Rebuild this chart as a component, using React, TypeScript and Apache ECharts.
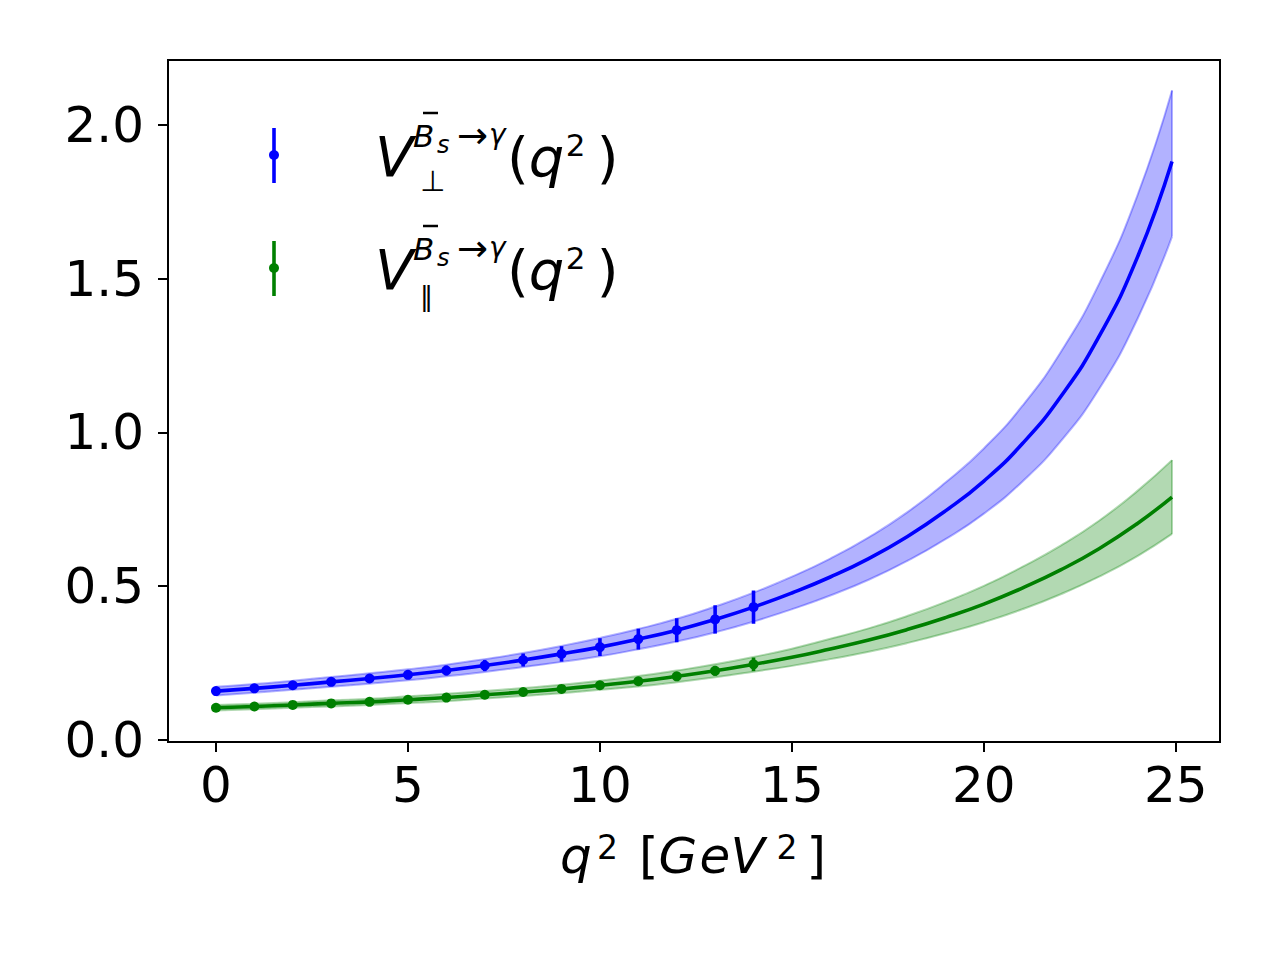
import React, { useEffect, useRef } from "react";
import * as echarts from "echarts";

// ---------- data ----------
const q2Grid = [0, 1, 2, 3, 4, 5, 6, 7, 8, 9, 10, 11, 12, 13, 14, 15, 16, 17, 18, 19, 20, 21, 22, 23, 24, 24.9];

const perpCentral = [0.159, 0.168, 0.178, 0.189, 0.2, 0.212, 0.226, 0.242, 0.26, 0.28, 0.302, 0.328, 0.357, 0.392, 0.432, 0.478, 0.53, 0.59, 0.661, 0.745, 0.842, 0.963, 1.116, 1.312, 1.57, 1.881];
const perpUpper = [0.173, 0.182, 0.193, 0.205, 0.217, 0.23, 0.245, 0.263, 0.283, 0.306, 0.332, 0.361, 0.394, 0.434, 0.479, 0.531, 0.59, 0.659, 0.74, 0.837, 0.948, 1.086, 1.261, 1.483, 1.771, 2.112];
const perpLower = [0.145, 0.154, 0.163, 0.173, 0.183, 0.194, 0.207, 0.221, 0.237, 0.254, 0.272, 0.295, 0.32, 0.35, 0.385, 0.425, 0.47, 0.521, 0.582, 0.653, 0.736, 0.84, 0.971, 1.141, 1.369, 1.637];

const parCentral = [0.105, 0.109, 0.114, 0.119, 0.124, 0.131, 0.138, 0.147, 0.156, 0.166, 0.178, 0.191, 0.207, 0.225, 0.246, 0.269, 0.296, 0.325, 0.359, 0.398, 0.442, 0.494, 0.553, 0.622, 0.704, 0.79];
const parUpper = [0.114, 0.118, 0.123, 0.129, 0.134, 0.142, 0.15, 0.159, 0.169, 0.18, 0.193, 0.208, 0.226, 0.246, 0.27, 0.297, 0.329, 0.363, 0.403, 0.449, 0.501, 0.563, 0.632, 0.713, 0.81, 0.91];
const parLower = [0.096, 0.1, 0.105, 0.109, 0.114, 0.12, 0.126, 0.135, 0.143, 0.152, 0.163, 0.174, 0.188, 0.204, 0.222, 0.241, 0.263, 0.287, 0.315, 0.347, 0.383, 0.425, 0.474, 0.531, 0.598, 0.67];

const q2Points = [0, 1, 2, 3, 4, 5, 6, 7, 8, 9, 10, 11, 12, 13, 14];
const perpPoints = [0.159, 0.168, 0.178, 0.189, 0.2, 0.212, 0.226, 0.242, 0.26, 0.28, 0.302, 0.328, 0.357, 0.392, 0.432];
const perpErrors = [0.01, 0.01, 0.011, 0.012, 0.013, 0.014, 0.016, 0.018, 0.021, 0.025, 0.029, 0.034, 0.039, 0.046, 0.054];
const parPoints = [0.105, 0.109, 0.114, 0.119, 0.124, 0.131, 0.138, 0.147, 0.156, 0.166, 0.178, 0.191, 0.207, 0.225, 0.246];
const parErrors = [0.005, 0.005, 0.005, 0.006, 0.006, 0.006, 0.007, 0.008, 0.008, 0.009, 0.01, 0.011, 0.013, 0.016, 0.022];

const xTicks = [0, 5, 10, 15, 20, 25];
const yTicks = [0, 0.5, 1, 1.5, 2];

// ---------- styling ----------
const BLUE = "#0000ff";
const GREEN = "#008000";
const BLUE_EDGE = "rgba(0,0,255,0.3)";
const GREEN_EDGE = "rgba(0,128,0,0.3)";
const BLUE_FILL = "#b2b2ff"; // blue at alpha 0.3 over white
const GREEN_FILL = "#b2d9b2"; // green at alpha 0.3 over white
const FONT = "DejaVu Sans";

const zip = (xs: number[], ys: number[]) => xs.map((x, i) => [x, ys[i]]);

// band = area under the upper edge, with the area under the lower edge painted white over it
function bandSeries(name: string, lower: number[], upper: number[], fill: string, edge: string) {
  return [
    {
      name: name + "-upper",
      type: "line",
      data: zip(q2Grid, upper),
      smooth: true,
      symbol: "none",
      lineStyle: { color: edge, width: 2 },
      areaStyle: { color: fill, opacity: 1, origin: "start" },
      z: 1,
      silent: true,
    },
    {
      name: name + "-lower",
      type: "line",
      data: zip(q2Grid, lower),
      smooth: true,
      symbol: "none",
      lineStyle: { color: edge, width: 2 },
      areaStyle: { color: "#ffffff", opacity: 1, origin: "start" },
      z: 1,
      silent: true,
    },
    {
      name: name + "-ends",
      type: "custom",
      data: [
        [q2Grid[0], lower[0], upper[0]],
        [q2Grid[q2Grid.length - 1], lower[lower.length - 1], upper[upper.length - 1]],
      ],
      encode: { x: 0, y: [1, 2] },
      renderItem: (_p: any, api: any) => {
        const a = api.coord([api.value(0), api.value(1)]);
        const b = api.coord([api.value(0), api.value(2)]);
        return {
          type: "line",
          shape: { x1: a[0], y1: a[1], x2: b[0], y2: b[1] },
          style: { stroke: edge, lineWidth: 2 },
        };
      },
      z: 1,
      silent: true,
    },
  ];
}

function centralSeries(name: string, values: number[], color: string) {
  return {
    name,
    type: "line",
    data: zip(q2Grid, values),
    smooth: true,
    symbol: "none",
    lineStyle: { color, width: 3.6 },
    z: 3,
    silent: true,
  };
}

function errorSeries(name: string, ys: number[], errs: number[], color: string) {
  return {
    name,
    type: "custom",
    data: q2Points.map((x, i) => [x, ys[i], errs[i]]),
    encode: { x: 0, y: 1 },
    renderItem: (_p: any, api: any) => {
      const x = api.value(0);
      const y = api.value(1);
      const e = api.value(2);
      const top = api.coord([x, y + e]);
      const bot = api.coord([x, y - e]);
      const c = api.coord([x, y]);
      return {
        type: "group",
        children: [
          {
            type: "line",
            shape: { x1: top[0], y1: top[1], x2: bot[0], y2: bot[1] },
            style: { stroke: color, lineWidth: 3.6 },
          },
          {
            type: "circle",
            shape: { cx: c[0], cy: c[1], r: 5 },
            style: { fill: color },
          },
        ],
      };
    },
    z: 4,
    silent: true,
  };
}

function txt(text: string, x: number, y: number, size: number, italic = false) {
  return {
    type: "text",
    silent: true,
    style: {
      text,
      x,
      y,
      fontSize: size,
      fontFamily: FONT,
      fontStyle: italic ? "italic" : "normal",
      fill: "#000",
      align: "left",
      verticalAlign: "middle",
    },
  };
}

function legendEntry(dy: number, color: string, sub: string, subX: number, subY: number, subSize: number) {
  return [
    {
      type: "line",
      silent: true,
      shape: { x1: 274, y1: 128 + dy, x2: 274, y2: 183 + dy },
      style: { stroke: color, lineWidth: 3.6 },
    },
    {
      type: "circle",
      silent: true,
      shape: { cx: 274, cy: 155 + dy, r: 5 },
      style: { fill: color },
    },
    txt("V", 375, 156 + dy, 56, true),
    txt("B", 413, 136 + dy, 31, true),
    {
      type: "line",
      silent: true,
      shape: { x1: 423, y1: 113 + dy, x2: 438, y2: 113 + dy },
      style: { stroke: "#000", lineWidth: 2.5 },
    },
    txt("s", 437, 145 + dy, 24, true),
    txt("\u2192", 457, 135 + dy, 37, false),
    txt("\u03b3", 489, 134 + dy, 28, true),
    txt(sub, subX, subY + dy, subSize, false),
    {
      type: "text",
      silent: true,
      style: {
        text: "{n|(}{i|q}{s|2}{n|)}",
        x: 507,
        y: 157 + dy,
        align: "left",
        verticalAlign: "middle",
        fontFamily: FONT,
        fontSize: 56,
        fill: "#000",
        rich: {
          n: { fontSize: 56, fontFamily: FONT, lineHeight: 56, fill: "#000" },
          i: { fontSize: 56, fontFamily: FONT, fontStyle: "italic", lineHeight: 56, width: 37, fill: "#000" },
          s: { fontSize: 31, fontFamily: FONT, lineHeight: 27, verticalAlign: "top", width: 31, fill: "#000" },
        },
      },
    },
  ];
}

export default function App() {
  const ref = useRef<HTMLDivElement>(null);

  useEffect(() => {
    if (!ref.current) return;
    const chart = echarts.init(ref.current, undefined, { renderer: "svg" });

    const axisCommon = {
      axisLine: { show: true, onZero: false, lineStyle: { color: "#000", width: 2 } },
      splitLine: { show: false },
      z: 6,
    };

    const option: any = {
      animation: false,
      backgroundColor: "#ffffff",
      grid: {
        left: 168,
        right: 60,
        top: 60,
        bottom: 218,
        containLabel: false,
        outerBoundsMode: "none",
        show: true,
        borderColor: "#000",
        borderWidth: 2,
        backgroundColor: "transparent",
      },
      xAxis: {
        type: "value",
        min: -1.25,
        max: 26.15,
        ...axisCommon,
        axisTick: {
          show: true,
          customValues: xTicks,
          length: 10,
          inside: false,
          lineStyle: { color: "#000", width: 2 },
        },
        axisLabel: {
          customValues: xTicks,
          fontSize: 50,
          fontFamily: FONT,
          color: "#000",
          margin: 18,
          formatter: (v: number) => String(v),
        },
      },
      yAxis: {
        type: "value",
        min: -0.0065,
        max: 2.211,
        ...axisCommon,
        axisTick: {
          show: true,
          customValues: yTicks,
          length: 10,
          inside: false,
          lineStyle: { color: "#000", width: 2 },
        },
        axisLabel: {
          customValues: yTicks,
          fontSize: 50,
          fontFamily: FONT,
          color: "#000",
          margin: 24,
          formatter: (v: number) => v.toFixed(1),
        },
      },
      series: [
        ...bandSeries("perp", perpLower, perpUpper, BLUE_FILL, BLUE_EDGE),
        ...bandSeries("par", parLower, parUpper, GREEN_FILL, GREEN_EDGE),
        centralSeries("perp-central", perpCentral, BLUE),
        centralSeries("par-central", parCentral, GREEN),
        errorSeries("perp-points", perpPoints, perpErrors, BLUE),
        errorSeries("par-points", parPoints, parErrors, GREEN),
      ],
      graphic: [
        ...legendEntry(0, BLUE, "\u22a5", 420, 180.5, 29),
        ...legendEntry(113, GREEN, "\u2016", 420, 182.5, 26),
        {
          type: "text",
          silent: true,
          style: {
            text: "{i|q}{s|2}{n| [}{g|G}{e|e}{v|V}{s2|2}{n|]}",
            x: 560,
            y: 856,
            align: "left",
            verticalAlign: "middle",
            fontFamily: FONT,
            fontSize: 50,
            fill: "#000",
            rich: {
              i: { fontSize: 50, fontStyle: "italic", fontFamily: FONT, lineHeight: 50, width: 37, fill: "#000" },
              g: { fontSize: 50, fontStyle: "italic", fontFamily: FONT, lineHeight: 50, width: 41, fill: "#000" },
              e: { fontSize: 50, fontStyle: "italic", fontFamily: FONT, lineHeight: 50, width: 31, fill: "#000" },
              v: { fontSize: 50, fontStyle: "italic", fontFamily: FONT, lineHeight: 50, width: 46, fill: "#000" },
              n: { fontSize: 50, fontFamily: FONT, lineHeight: 50, fill: "#000" },
              s: { fontSize: 33, fontFamily: FONT, lineHeight: 24, verticalAlign: "top", width: 26, fill: "#000" },
              s2: { fontSize: 33, fontFamily: FONT, lineHeight: 24, verticalAlign: "top", width: 30, fill: "#000" },
            },
          },
        },
      ],
    };

    chart.setOption(option);
    return () => chart.dispose();
  }, []);

  return (
    <div
      ref={ref}
      style={{ position: "fixed", left: 0, top: 0, width: 1280, height: 960, background: "#fff" }}
    />
  );
}
